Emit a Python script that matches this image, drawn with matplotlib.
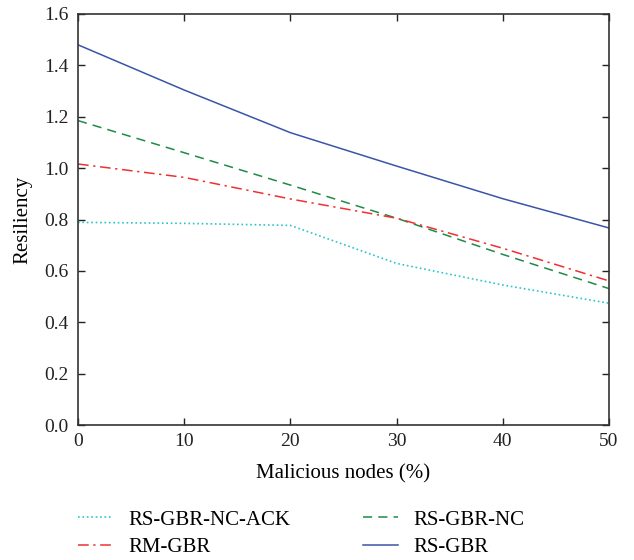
import numpy as np
import matplotlib
matplotlib.use('Agg')
import matplotlib.pyplot as plt

plt.rcParams['font.family'] = ['Liberation Serif', 'DejaVu Serif']

malicious = [0, 10, 20, 30, 40, 50]
rs_gbr_nc_ack = [0.789, 0.785, 0.777, 0.629, 0.545, 0.474]
rs_gbr_nc = [1.185, 1.060, 0.934, 0.805, 0.664, 0.531]
rm_gbr = [1.016, 0.964, 0.880, 0.805, 0.688, 0.561]
rs_gbr = [1.480, 1.304, 1.138, 1.008, 0.881, 0.767]

fig = plt.figure(figsize=(6.34, 5.6), dpi=100)
ax = fig.add_axes([78/634, 1-425/560, (609-78)/634, (425-14)/560])

l1, = ax.plot(malicious, rs_gbr_nc_ack, ':', color='#2cc5c8', lw=1.2, label='RS-GBR-NC-ACK')
l2, = ax.plot(malicious, rs_gbr_nc, '--', color='#1e8a45', lw=1.1, label='RS-GBR-NC', dashes=(6, 4))
l3, = ax.plot(malicious, rm_gbr, '-.', color='#f03030', lw=1.1, label='RM-GBR', dashes=(7, 3, 1.5, 3))
l4, = ax.plot(malicious, rs_gbr, '-', color='#3a55a8', lw=1.1, label='RS-GBR')

ax.set_xlim(0, 50)
ax.set_ylim(0, 1.6)
ax.set_xticks(np.arange(0, 51, 10))
ax.set_yticks(np.arange(0, 1.61, 0.2))
ax.set_yticklabels(['%.1f' % v for v in np.arange(0, 1.61, 0.2)])
ax.tick_params(direction='in', top=True, right=True, length=5, width=1, labelsize=14, colors='#222222')
ax.tick_params(axis='x', pad=6)
ax.tick_params(axis='y', pad=7)
for s in ax.spines.values():
    s.set_color('#333333')
    s.set_linewidth(1.2)

ax.set_xlabel('Malicious nodes (%)', fontsize=15, labelpad=10)
ax.set_ylabel('Resiliency', fontsize=15, labelpad=8)

# two legend columns placed separately
leg_kw = dict(loc='upper left', frameon=False, fontsize=15, handlelength=1.7,
              handletextpad=0.7, labelspacing=0.4, borderpad=0, borderaxespad=0)
leg1 = fig.legend(handles=[l1, l3], bbox_to_anchor=(78/634, 1-510/560), **leg_kw)
leg2 = fig.legend(handles=[l2, l4], bbox_to_anchor=(363/634, 1-510/560), **leg_kw)

plt.savefig('out.png', dpi=100)
